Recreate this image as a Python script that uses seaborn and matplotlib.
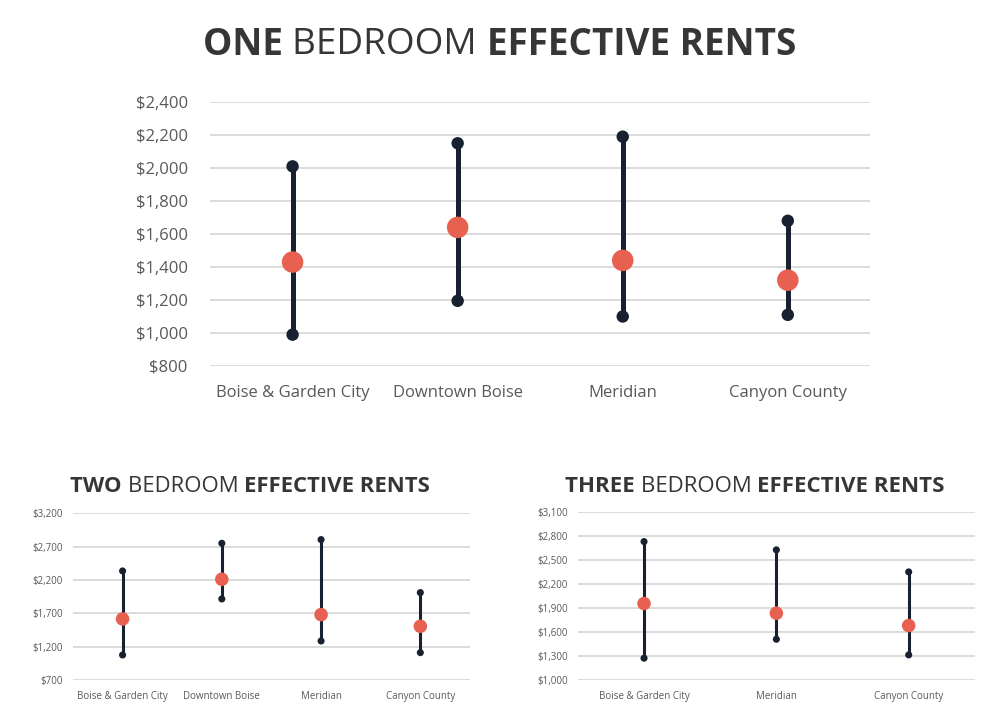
import matplotlib
matplotlib.use('Agg')
import numpy as np
import matplotlib.pyplot as plt
import seaborn as sns
from matplotlib.ticker import StrMethodFormatter

sns.set_style('white')
plt.rcParams['font.family'] = ['Open Sans', 'DejaVu Sans']

# one bedroom
cats_1 = ['Boise & Garden City', 'Downtown Boise', 'Meridian', 'Canyon County']
low_1 = [990, 1195, 1100, 1110]
high_1 = [2010, 2150, 2190, 1680]
mid_1 = [1430, 1640, 1440, 1320]

# two bedroom
cats_2 = ['Boise & Garden City', 'Downtown Boise', 'Meridian', 'Canyon County']
low_2 = [1075, 1915, 1285, 1110]
high_2 = [2335, 2750, 2805, 2010]
mid_2 = [1615, 2210, 1680, 1505]

# three bedroom
cats_3 = ['Boise & Garden City', 'Meridian', 'Canyon County']
low_3 = [1273, 1510, 1314]
high_3 = [2733, 2629, 2353]
mid_3 = [1957, 1836, 1681]

DARK = '#172130'
RED = '#e8604f'
GRID = '#d9d9d9'
TICK = '#595959'
TITLE = '#363636'


def range_plot(ax, cats, low, high, mid, ylim, step, lw, dot, big, fs, ypad, xpad):
    ax.vlines(cats, low, high, color=DARK, linewidth=lw, zorder=2)
    sns.scatterplot(x=cats + cats, y=low + high, color=DARK, s=dot, edgecolor='none',
                    zorder=3, ax=ax, clip_on=False)
    sns.scatterplot(x=cats, y=mid, color=RED, s=big, edgecolor='none',
                    zorder=4, ax=ax, clip_on=False)
    ax.set_xlim(-0.5, len(cats) - 0.5)
    ax.set_ylim(*ylim)
    ax.set_yticks(np.arange(ylim[0], ylim[1] + 1, step))
    ax.yaxis.set_major_formatter(StrMethodFormatter('${x:,.0f}'))
    ax.grid(True, axis='y', color=GRID, linewidth=1.3, zorder=0)
    ax.grid(False, axis='x')
    for sp in ax.spines.values():
        sp.set_visible(False)
    ax.tick_params(axis='both', length=0, labelsize=fs, labelcolor=TICK)
    ax.tick_params(axis='y', pad=ypad)
    ax.tick_params(axis='x', pad=xpad)
    ax.set(xlabel='', ylabel='')


def mixed_title(fig, parts, xc, y, size):
    r = fig.canvas.get_renderer()
    W = fig.bbox.width
    texts, x = [], 0.0
    for s, w in parts:
        t = fig.text(x, y, s, fontsize=size, fontweight=w, color=TITLE, va='center', ha='left')
        x += t.get_window_extent(renderer=r).width / W
        texts.append(t)
    x0 = xc - x / 2
    for t in texts:
        t.set_x(t.get_position()[0] + x0)


fig = plt.figure(figsize=(10.05, 7.23), dpi=100)
ax1 = fig.add_axes([0.209, 0.4938, 0.657, 0.3651])
ax2 = fig.add_axes([0.0726, 0.0595, 0.395, 0.2306])
ax3 = fig.add_axes([0.575, 0.0595, 0.395, 0.2320])

range_plot(ax1, cats_1, low_1, high_1, mid_1, (800, 2400), 200, 3.6, 80, 240, 12, 16, 14)
range_plot(ax2, cats_2, low_2, high_2, mid_2, (700, 3200), 500, 2.2, 26, 95, 7, 7, 8)
range_plot(ax3, cats_3, low_3, high_3, mid_3, (1000, 3100), 300, 2.2, 26, 95, 7, 7, 8)

fig.canvas.draw()
mixed_title(fig, [('ONE ', 'bold'), ('BEDROOM ', 'normal'), ('EFFECTIVE RENTS', 'bold')], 0.497, 1 - 45 / 723, 26.6)
mixed_title(fig, [('TWO ', 'bold'), ('BEDROOM ', 'normal'), ('EFFECTIVE RENTS', 'bold')], 0.249, 1 - 486 / 723, 15.9)
mixed_title(fig, [('THREE ', 'bold'), ('BEDROOM ', 'normal'), ('EFFECTIVE RENTS', 'bold')], 0.751, 1 - 486 / 723, 16)

fig.savefig('out.png', dpi=100)
